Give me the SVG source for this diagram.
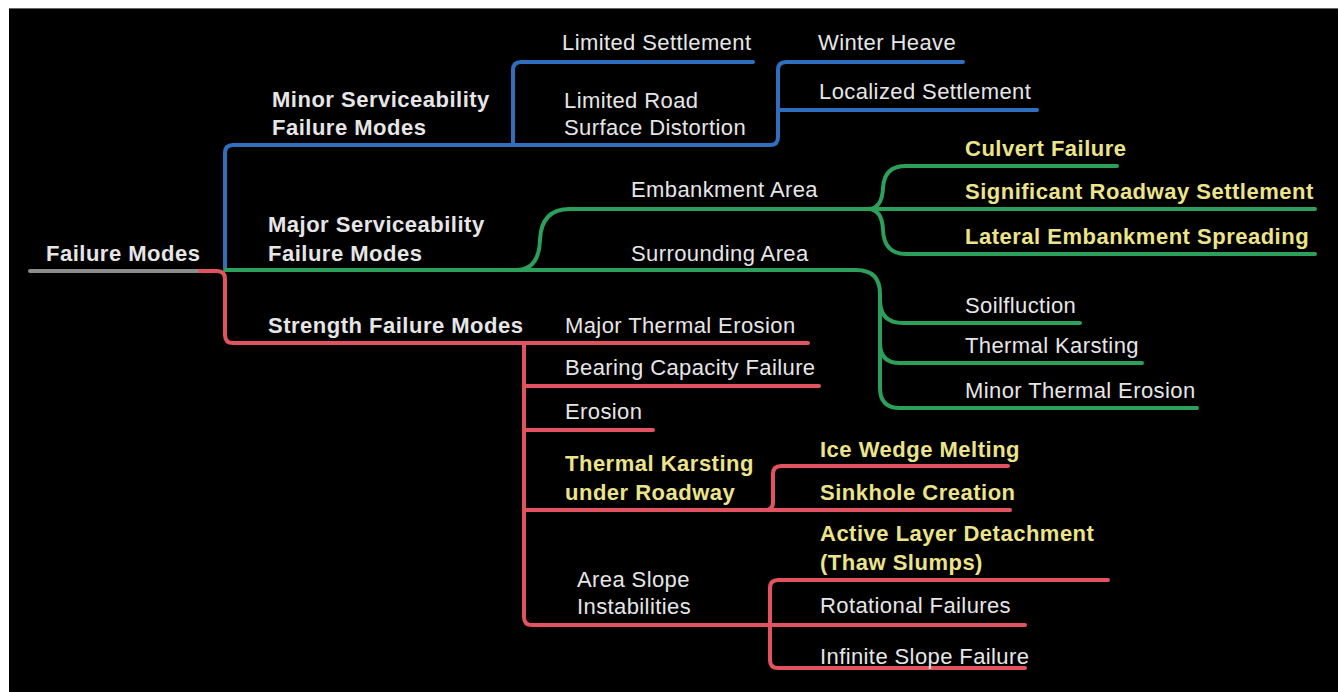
<svg xmlns="http://www.w3.org/2000/svg" width="1338" height="692" viewBox="0 0 1338 692">
  <style>
    .t { font-family: "Liberation Sans", Arial, sans-serif; font-size: 22px; letter-spacing: 0.4px; fill: #e6e6e6; }
    .b { font-weight: bold; letter-spacing: 0.5px; }
    .y { fill: #ece488; }
    .ln { fill: none; stroke-width: 4; stroke-linecap: round; stroke-linejoin: round; }
    .blue { stroke: #2f6fbd; }
    .green { stroke: #2c9f5a; }
    .red { stroke: #e3525f; }
    .gray { stroke: #8c8c8c; }
  </style>
  <rect width="1338" height="692" fill="#ffffff"/>
  <rect x="9" y="8" width="1329" height="684" fill="#000000"/>
  <line x1="9" y1="8.5" x2="1338" y2="8.5" stroke="#666" stroke-width="1"/>

  <g id="connectors">
    <!-- root stem -->
    <path class="ln gray" d="M30,271 H200"/>
    <!-- minor serviceability (blue) -->
    <path class="ln blue" d="M225,268 V153 Q225,145 233,145 H770 Q778,145 778,137 V70 Q778,62 786,62 H963"/>
    <path class="ln blue" d="M513,145 V70 Q513,62 521,62 H753"/>
    <path class="ln blue" d="M778,110 H1037"/>
    <!-- major serviceability (green) -->
    <path class="ln green" d="M225,270 H516 Q539,270 540,240 Q541,209 570,209 H1315"/>
    <path class="ln green" d="M868,209 Q882,209 883,188 Q884,166 906,166 H1117"/>
    <path class="ln green" d="M868,209 Q882,209 883,230 Q884,254 906,254 H1315"/>
    <path class="ln green" d="M500,270 H856 Q880,270 880,294 V388 Q880,408 900,408 H1197"/>
    <path class="ln green" d="M880,300 Q880,323 903,323 H1080"/>
    <path class="ln green" d="M880,343 Q880,363 900,363 H1142"/>
    <!-- strength (red) -->
    <path class="ln red" d="M200,271 H217 Q225,271 225,279 V335 Q225,343 233,343 H808"/>
    <path class="ln red" d="M524,343 V617 Q524,625 532,625 H1025"/>
    <path class="ln red" d="M524,386 H819"/>
    <path class="ln red" d="M524,430 H653"/>
    <path class="ln red" d="M524,510 H1010"/>
    <path class="ln red" d="M765,510 Q773,510 773,502 V474 Q773,466 781,466 H1008"/>
    <path class="ln red" d="M1108,580 H778 Q770,580 770,588 V660 Q770,668 778,668 H1025"/>
  </g>

  <g id="root"><text class="t b" x="46" y="261">Failure Modes</text></g>

  <g id="minor"><text class="t b" x="272" y="107">Minor Serviceability</text><text class="t b" x="272" y="135">Failure Modes</text></g>
  <g id="limited-settlement"><text class="t" x="562" y="50">Limited Settlement</text></g>
  <g id="limited-road"><text class="t" x="564" y="108">Limited Road</text><text class="t" x="564" y="135">Surface Distortion</text></g>
  <g id="winter-heave"><text class="t" x="818" y="50">Winter Heave</text></g>
  <g id="localized-settlement"><text class="t" x="819" y="99">Localized Settlement</text></g>

  <g id="major"><text class="t b" x="268" y="232">Major Serviceability</text><text class="t b" x="268" y="261">Failure Modes</text></g>
  <g id="embankment-area"><text class="t" x="631" y="197">Embankment Area</text></g>
  <g id="culvert"><text class="t b y" x="965" y="156">Culvert Failure</text></g>
  <g id="roadway-settlement"><text class="t b y" x="965" y="199">Significant Roadway Settlement</text></g>
  <g id="lateral-spreading"><text class="t b y" x="965" y="244">Lateral Embankment Spreading</text></g>
  <g id="surrounding-area"><text class="t" x="631" y="261">Surrounding Area</text></g>
  <g id="soilfluction"><text class="t" x="965" y="313">Soilfluction</text></g>
  <g id="thermal-karsting"><text class="t" x="965" y="353">Thermal Karsting</text></g>
  <g id="minor-erosion"><text class="t" x="965" y="398">Minor Thermal Erosion</text></g>

  <g id="strength"><text class="t b" x="268" y="333">Strength Failure Modes</text></g>
  <g id="major-erosion"><text class="t" x="565" y="333">Major Thermal Erosion</text></g>
  <g id="bearing"><text class="t" x="565" y="375">Bearing Capacity Failure</text></g>
  <g id="erosion"><text class="t" x="565" y="419">Erosion</text></g>
  <g id="karsting-roadway"><text class="t b y" x="565" y="471">Thermal Karsting</text><text class="t b y" x="565" y="500">under Roadway</text></g>
  <g id="ice-wedge"><text class="t b y" x="820" y="457">Ice Wedge Melting</text></g>
  <g id="sinkhole"><text class="t b y" x="820" y="500">Sinkhole Creation</text></g>
  <g id="slope"><text class="t" x="577" y="587">Area Slope</text><text class="t" x="577" y="614">Instabilities</text></g>
  <g id="active-layer"><text class="t b y" x="820" y="541">Active Layer Detachment</text><text class="t b y" x="820" y="570">(Thaw Slumps)</text></g>
  <g id="rotational"><text class="t" x="820" y="613">Rotational Failures</text></g>
  <g id="infinite-slope"><text class="t" x="820" y="664">Infinite Slope Failure</text></g>
</svg>
